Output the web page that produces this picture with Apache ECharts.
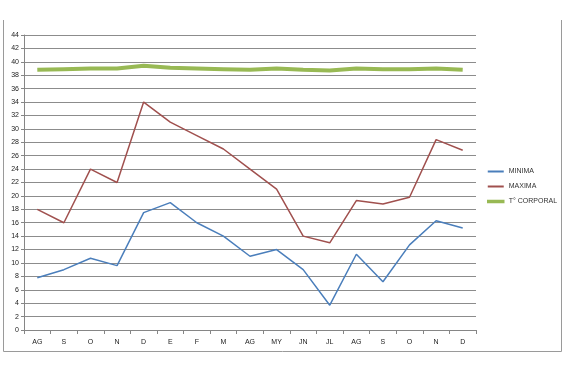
<!DOCTYPE html>
<html><head><meta charset="utf-8">
<script src="https://cdn.jsdelivr.net/npm/echarts@6/dist/echarts.min.js"></script>
<style>html,body{margin:0;padding:0;background:#fff}#c{width:569px;height:365px}</style>
</head><body><div id="c"></div>
<script>
const categories = ["AG","S","O","N","D","E","F","M","AG","MY","JN","JL","AG","S","O","N","D"];
const minima = [7.8,9,10.7,9.6,17.5,19,16,14,11,12,9,3.7,11.3,7.2,12.7,16.3,15.2];
const maxima = [18,16,24,22,34,31,29,27,24,21,14,13,19.3,18.8,19.8,28.4,26.8];
const corporal = [38.8,38.9,39,39,39.4,39.1,39,38.9,38.8,39,38.8,38.7,39,38.9,38.9,39,38.8];
const names = ["MINIMA","MAXIMA","T° CORPORAL"];

const chart = echarts.init(document.getElementById('c'));
const font = 'Liberation Sans';
chart.setOption({
  animation:false,
  grid:{left:24,right:93,top:35,bottom:35,containLabel:false},
  legend:{
    orient:'vertical', left:487, top:168, padding:0, itemWidth:16, itemHeight:2, itemGap:8,
    textStyle:{fontFamily:font,fontSize:7,color:'#333'},
    data:[
      {name:names[0],icon:'rect',itemStyle:{color:'#4A7EBB'}},
      {name:names[1],icon:'rect',itemStyle:{color:'#A0504E'}},
      {name:names[2],icon:'rect',itemStyle:{color:'#98B954',borderColor:'#98B954',borderWidth:1.5}}
    ]
  },
  xAxis:{type:'category',data:categories,boundaryGap:true,
    axisLine:{lineStyle:{color:'#868686',width:1}},
    axisTick:{show:true,length:4,lineStyle:{color:'#868686'}},
    axisLabel:{fontFamily:font,fontSize:7,color:'#222',margin:9}},
  yAxis:{type:'value',min:0,max:44,interval:2,
    axisLine:{show:true,lineStyle:{color:'#868686'}},
    axisTick:{show:true,length:3,lineStyle:{color:'#868686'}},
    axisLabel:{fontFamily:font,fontSize:7,color:'#222',margin:5},
    splitLine:{lineStyle:{color:'#8c8c8c',width:1}}},
  series:[
    {name:names[0],type:'line',data:minima,symbol:'none',lineStyle:{color:'#4A7EBB',width:1.5},itemStyle:{color:'#4A7EBB'}},
    {name:names[1],type:'line',data:maxima,symbol:'none',lineStyle:{color:'#A0504E',width:1.5},itemStyle:{color:'#A0504E'}},
    {name:names[2],type:'line',data:corporal,symbol:'none',lineStyle:{color:'#98B954',width:4},itemStyle:{color:'#98B954'}}
  ],
  graphic:[
    {type:'polyline',shape:{points:[[3.5,20],[3.5,351.5],[561.5,351.5],[561.5,20]]},style:{stroke:'#9a9a9a',fill:null,lineWidth:1}}
  ]
});
</script></body></html>
